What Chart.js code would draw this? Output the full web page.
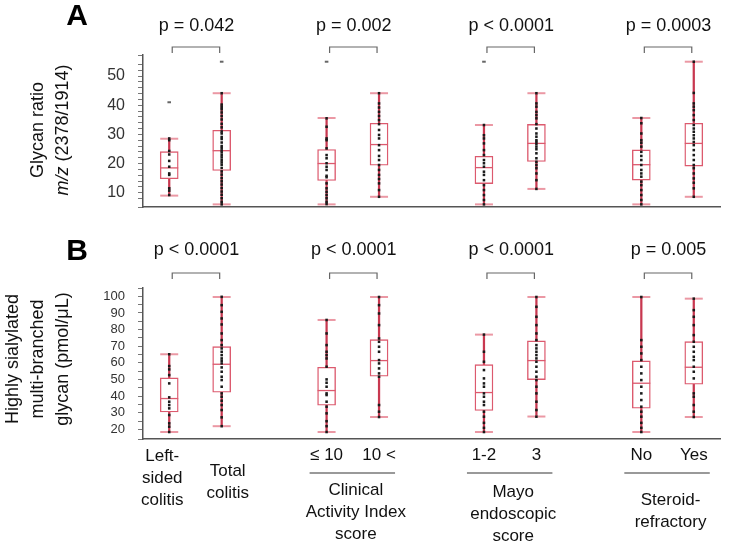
<!DOCTYPE html>
<html>
<head>
<meta charset="utf-8">
<script src="https://cdn.jsdelivr.net/npm/chart.js@4"></script>
<style>
  body { margin: 0; background: #fff; }
  #wrap { position: relative; width: 731px; height: 544px; }
  canvas { position: absolute; left: 0; }
</style>
</head>
<body>
<div id="wrap">
  <canvas id="chartA" width="731" height="240" style="top:0"></canvas>
  <canvas id="chartB" width="731" height="329" style="top:215px"></canvas>
</div>
<script>
// positions des boites sur l'axe x
const positions = [1, 2, 4, 5, 7, 8, 10, 11];

// textes
const pValuesA = ['p = 0.042', 'p = 0.002', 'p < 0.0001', 'p = 0.0003'];
const pValuesB = ['p < 0.0001', 'p < 0.0001', 'p < 0.0001', 'p = 0.005'];
const subLabels = ['≤ 10', '10 <', '1-2', '3', 'No', 'Yes'];
const leftLabel = ['Left-', 'sided', 'colitis'];
const totalLabel = ['Total', 'colitis'];
const groupTitles = [['Clinical', 'Activity Index', 'score'], ['Mayo', 'endoscopic', 'score'], ['Steroid-', 'refractory']];

// panneau A : glycan ratio
const lowA  = [9.0, 6.0, 6.0, 8.6, 6.0, 11.3, 6.0, 8.6];
const q1A   = [14.8, 17.6, 14.2, 19.4, 13.1, 20.7, 14.3, 19.1];
const medA  = [18.5, 24.4, 20.0, 26.5, 18.6, 26.9, 19.6, 26.9];
const q3A   = [24.1, 31.4, 24.8, 33.8, 22.5, 33.4, 24.7, 33.8];
const highA = [28.5, 44.1, 35.6, 44.1, 33.2, 44.1, 35.6, 54.9];
const outA  = [41.0, 54.9, 54.9, null, 54.9, null, null, null];

const ptsA1 = [9.2, 10.7, 11.5, 16.1, 16.6, 18.9, 20.9, 23.1, 24.3, 28.0, 28.6];
const ptsA2 = [6.0, 6.9, 8.1, 9.3, 10.4, 11.6, 12.8, 13.9, 15.0, 16.2, 17.3, 18.5, 19.6, 20.4, 21.2, 22.1, 22.9, 23.8, 24.5, 25.3, 26.0, 27.2, 28.4, 29.1, 30.3, 31.0, 32.4, 33.6, 35.1, 36.3, 37.5, 38.6, 39.4, 40.2, 44.1];
const ptsA3 = [6.1, 6.9, 8.1, 9.2, 10.3, 11.5, 13.2, 15.3, 15.8, 17.8, 18.9, 20.1, 21.8, 22.9, 25.2, 28.0, 28.6, 32.6, 35.5];
const ptsA4 = [8.6, 10.9, 13.2, 14.7, 16.1, 17.8, 19.5, 21.2, 22.6, 24.6, 26.3, 28.6, 29.8, 31.5, 33.5, 34.9, 36.3, 37.7, 39.2, 40.6, 44.1];
const ptsA5 = [6.0, 7.5, 9.2, 10.9, 12.6, 14.3, 16.1, 17.2, 18.9, 20.1, 21.2, 22.9, 24.6, 26.9, 28.6, 29.7, 33.2];
const ptsA6 = [11.3, 14.3, 16.6, 18.4, 19.5, 20.6, 21.8, 23.5, 24.9, 25.8, 26.7, 27.4, 28.0, 29.2, 30.3, 32.0, 33.5, 35.5, 36.6, 37.7, 39.5, 40.6, 44.1];
const ptsA7 = [6.0, 7.5, 9.2, 10.9, 12.6, 13.8, 15.5, 16.6, 17.8, 19.5, 21.2, 22.6, 24.0, 25.8, 27.1, 28.0, 30.3, 33.8, 35.6];
const ptsA8 = [8.6, 11.5, 13.4, 14.9, 16.6, 18.4, 19.5, 21.2, 22.9, 24.6, 26.3, 27.4, 28.6, 29.7, 30.9, 32.0, 33.2, 34.9, 36.6, 38.3, 39.5, 40.6, 44.2, 54.9];

// panneau B : highly sialylated multi-branched glycan
const lowB  = [18.5, 22, 18.5, 27.5, 18.5, 27.8, 18.5, 27.5];
const q1B   = [30.5, 42.4, 34.6, 52, 31.4, 50, 32.8, 47.2];
const medB  = [38.6, 59.2, 43.4, 61.4, 42.2, 61.4, 47.8, 57.4];
const q3B   = [51, 69.8, 57.4, 74, 59, 73.2, 61.2, 72.8];
const highB = [65.2, 99.6, 85.8, 99.6, 77, 99.6, 99.6, 98.6];
const outB  = [null, null, null, null, null, null, null, null];

const ptsB1 = [18.5, 21.7, 23.7, 28.7, 32.7, 34.7, 36.7, 39.3, 47.7, 52.7, 56.1, 58.1, 65.2];
const ptsB2 = [22, 27.3, 31.7, 34.7, 37.3, 39.7, 41.7, 45.7, 49.7, 51.7, 54.7, 57.3, 59.7, 61.3, 62.7, 64.7, 66.7, 68.7, 70.7, 73.7, 77.7, 83.1, 86.7, 90.7, 94.7, 99.7];
const ptsB3 = [18.5, 22, 25, 29.7, 33.7, 36.7, 40.7, 41.7, 45.7, 48.1, 50.1, 57.7, 62.7, 64.7, 66.7, 70.7, 77.7, 85.8];
const ptsB4 = [27.5, 30.7, 34.7, 51.7, 53.7, 56.7, 59.7, 61.7, 66.7, 69.7, 72.7, 74.7, 82.7, 89.7, 94.7, 99.6];
const ptsB5 = [18.5, 21, 24, 27.7, 30.7, 34.7, 36.7, 39.7, 41.7, 45.7, 47.7, 50.7, 55.7, 60.7, 66.7, 77];
const ptsB6 = [27.7, 31.7, 36.7, 41.7, 45.7, 49.7, 51.7, 54.7, 57.7, 60.7, 62.7, 64.7, 66.7, 68.7, 70.7, 73.7, 77.7, 82.7, 87.7, 93.7, 99.6];
const ptsB7 = [18.5, 21, 24, 27.7, 30.7, 33.7, 37.7, 41.7, 45.7, 49.7, 53.7, 57.7, 61.7, 65.7, 69.7, 73.7, 99.6];
const ptsB8 = [27.5, 30.7, 34.7, 39.7, 41.7, 50.7, 54.7, 57.7, 61.7, 63.7, 66.7, 69.7, 72.7, 76.7, 82.7, 87.7, 91.7, 98.6];

const FONT = "'Liberation Sans', Arial, sans-serif";
const BOX = '#dc5a6e';
const WHISKER = '#c83850';
const CAP = '#eb98a4';
const AXIS = '#555';

function boxDatasets(low, q1, med, q3, high, out, pts) {
    const caps = [];
    positions.forEach((x, i) => {
        caps.push({x, y: low[i]});
        caps.push({x, y: high[i]});
    });
    const dots = [];
    pts.forEach((list, i) => list.forEach(v => dots.push({x: positions[i], y: v})));
    const outliers = [];
    out.forEach((v, i) => { if (v !== null) outliers.push({x: positions[i], y: v}); });
    return [
        {
            type: 'bar',
            data: positions.map((x, i) => ({x, y: [low[i], high[i]]})),
            backgroundColor: WHISKER,
            barThickness: 1.6,
            grouped: false,
            order: 6,
        },
        {
            type: 'bar',
            data: positions.map((x, i) => ({x, y: [q1[i], q3[i]]})),
            backgroundColor: '#fff',
            borderColor: BOX,
            borderWidth: 1.4,
            borderSkipped: false,
            barThickness: 18,
            grouped: false,
            order: 5,
        },
        {
            type: 'scatter',
            data: positions.map((x, i) => ({x, y: med[i]})),
            pointStyle: 'line',
            pointRadius: 9,
            pointBorderColor: BOX,
            pointBorderWidth: 1.3,
            order: 4,
        },
        {
            type: 'scatter',
            data: caps,
            pointStyle: 'line',
            pointRadius: 9,
            pointBorderColor: CAP,
            pointBorderWidth: 2,
            order: 3,
        },
        {
            type: 'scatter',
            data: dots,
            pointStyle: 'rect',
            pointRadius: 1.8,
            pointBackgroundColor: '#1a1a1a',
            pointBorderWidth: 0,
            order: 2,
        },
        {
            type: 'scatter',
            data: outliers,
            pointStyle: 'line',
            pointRadius: 1.8,
            pointBorderColor: '#666',
            pointBorderWidth: 2,
            order: 1,
        },
    ];
}

function drawRotated(ctx, x, y, parts, size) {
    ctx.save();
    ctx.translate(x, y);
    ctx.rotate(-Math.PI / 2);
    ctx.textBaseline = 'middle';
    ctx.textAlign = 'left';
    let total = 0;
    parts.forEach(p => {
        ctx.font = (p.italic ? 'italic ' : '') + size + 'px ' + FONT;
        p.w = ctx.measureText(p.text).width;
        total += p.w;
    });
    let cx = -total / 2;
    parts.forEach(p => {
        ctx.font = (p.italic ? 'italic ' : '') + size + 'px ' + FONT;
        ctx.fillStyle = '#111';
        ctx.fillText(p.text, cx, 0);
        cx += p.w;
    });
    ctx.restore();
}

function annotations(letter, letterY, pValues, pY, brTop, brBottom, titleLines, titleY, bottomLabels) {
    return {
        id: 'annot' + letter,
        afterDraw(chart) {
            const ctx = chart.ctx;
            const xs = chart.scales.x;
            ctx.save();
            ctx.fillStyle = '#000';
            ctx.font = 'bold 30px ' + FONT;
            ctx.textAlign = 'center';
            ctx.textBaseline = 'middle';
            ctx.fillText(letter, 77, letterY);

            // p-values et crochets
            ctx.font = '18px ' + FONT;
            ctx.fillStyle = '#111';
            pValues.forEach((p, g) => {
                const a = xs.getPixelForValue(positions[2 * g]);
                const b = xs.getPixelForValue(positions[2 * g + 1]);
                ctx.fillText(p, (a + b) / 2 + 1, pY);
                ctx.strokeStyle = '#666';
                ctx.lineWidth = 1.2;
                ctx.beginPath();
                ctx.moveTo(a + 3, brBottom);
                ctx.lineTo(a + 3, brTop);
                ctx.lineTo(b - 2, brTop);
                ctx.lineTo(b - 2, brBottom);
                ctx.stroke();
            });

            // titres de l'axe y
            titleLines.forEach(t => drawRotated(ctx, t.x, titleY, t.parts, 18));

            if (bottomLabels) bottomLabels(chart, ctx, xs);
            ctx.restore();
        },
    };
}

function yAxis(min, max, step, size) {
    return {
        min, max,
        ticks: {
            stepSize: step,
            autoSkip: false,
            includeBounds: true,
            callback: v => (Math.abs(v % 10) < 1e-6 && v >= 10) ? String(v) : '',
            font: {size, family: FONT},
            color: '#333',
            padding: 13,
        },
        grid: {drawOnChartArea: false, tickLength: 5, tickColor: '#777', tickWidth: 1},
        border: {color: AXIS, width: 1.5},
        afterFit: s => { s.width = 143; },
    };
}

const xAxis = {
    type: 'linear',
    min: 0.5,
    max: 11.5,
    offset: false,
    ticks: {display: false},
    grid: {display: false, drawTicks: false},
    border: {color: AXIS, width: 1.5},
    afterFit: s => { s.height = 0; },
};

function baseOptions(padTop, padBottom, y) {
    return {
        responsive: false,
        animation: false,
        devicePixelRatio: 1,
        layout: {padding: {top: padTop, bottom: padBottom, left: 0, right: 2}},
        plugins: {legend: {display: false}, tooltip: {enabled: false}},
        scales: {x: xAxis, y},
    };
}

new Chart(document.getElementById('chartA'), {
    type: 'bar',
    data: {datasets: boxDatasets(lowA, q1A, medA, q3A, highA, outA, [ptsA1, ptsA2, ptsA3, ptsA4, ptsA5, ptsA6, ptsA7, ptsA8])},
    options: baseOptions(55, 33, yAxis(5.1, 57.2, 2, 16)),
    plugins: [annotations('A', 17, pValuesA, 26, 47, 53, [
        {x: 38, parts: [{text: 'Glycan ratio'}]},
        {x: 63, parts: [{text: 'm/z', italic: true}, {text: ' (2378/1914)'}]},
    ], 130)],
});

const OFF = 215;
new Chart(document.getElementById('chartB'), {
    type: 'bar',
    data: {datasets: boxDatasets(lowB, q1B, medB, q3B, highB, outB, [ptsB1, ptsB2, ptsB3, ptsB4, ptsB5, ptsB6, ptsB7, ptsB8])},
    options: baseOptions(73, 105, yAxis(14.3, 105, 5, 13)),
    plugins: [annotations('B', 252 - OFF, pValuesB, 250 - OFF, 273 - OFF, 279 - OFF, [
        {x: 13, parts: [{text: 'Highly sialylated'}]},
        {x: 38, parts: [{text: 'multi-branched'}]},
        {x: 63, parts: [{text: 'glycan (pmol/μL)'}]},
    ], 359 - OFF, (chart, ctx, xs) => {
        const px = v => xs.getPixelForValue(v);
        ctx.fillStyle = '#111';
        ctx.font = '17px ' + FONT;
        ctx.textAlign = 'center';
        ctx.textBaseline = 'middle';
        leftLabel.forEach((t, i) => ctx.fillText(t, px(1) - 7, 456 - OFF + i * 22));
        totalLabel.forEach((t, i) => ctx.fillText(t, px(2) + 6, 471 - OFF + i * 22));
        subLabels.forEach((t, i) => ctx.fillText(t, px(positions[i + 2]), 455 - OFF));
        const titleStart = [490, 492, 500];
        groupTitles.forEach((lines, g) => {
            const a = px(positions[2 * g + 2]);
            const b = px(positions[2 * g + 3]);
            ctx.strokeStyle = '#999';
            ctx.lineWidth = 2;
            ctx.beginPath();
            ctx.moveTo(a - 17, 473 - OFF);
            ctx.lineTo(b + 16, 473 - OFF);
            ctx.stroke();
            lines.forEach((t, i) => ctx.fillText(t, (a + b) / 2 + 3, titleStart[g] - OFF + i * 22));
        });
    })],
});
</script>
</body>
</html>
